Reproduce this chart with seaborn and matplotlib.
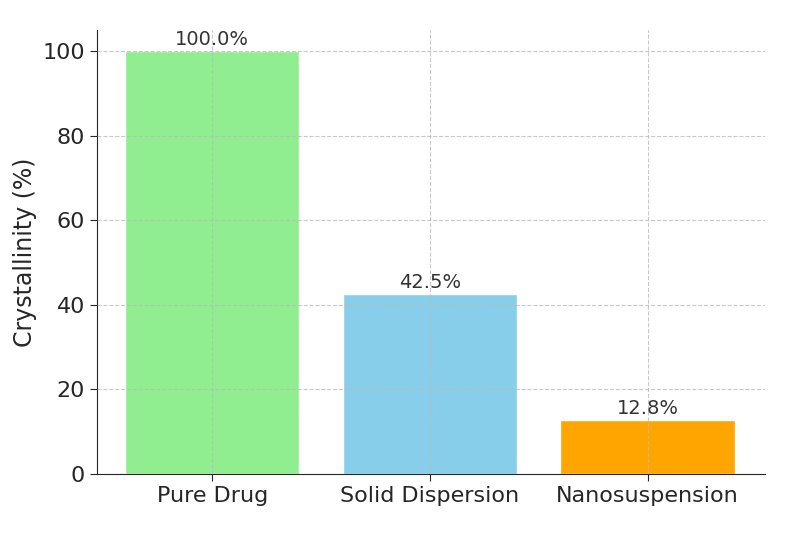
import matplotlib
matplotlib.use("Agg")
import matplotlib.pyplot as plt
import seaborn as sns
import pandas as pd

categories = ["Pure Drug", "Solid Dispersion", "Nanosuspension"]
values = [100.0, 42.5, 12.8]
colors = ["lightgreen", "skyblue", "orange"]

sns.set_style("white")
plt.rcParams['font.family'] = ['DejaVu Sans']
fig = plt.figure(figsize=(7.92, 5.43), dpi=100)
ax = fig.add_axes([97/792, 1-474/543, (765-97)/792, (474-30)/543])
df = pd.DataFrame({"cat": categories, "val": values})
sns.barplot(data=df, x="cat", y="val", hue="cat", palette=colors, ax=ax, width=0.8, legend=False, saturation=1)
for i, v in enumerate(values):
    ax.text(i, v + 0.5, f"{v:.1f}%", ha="center", va="bottom", fontsize=14, color="#333333")
ax.set_ylim(0, 105)
ax.set_xlim(-0.53, 2.54)
ax.set_xlabel("")
ax.set_ylabel("Crystallinity (%)", fontsize=17)
ax.tick_params(axis="both", labelsize=16, length=5, left=True, bottom=True)
ax.grid(True, linestyle="--", color="#bbbbbb", alpha=0.8)
ax.set_axisbelow(False)
sns.despine(ax=ax)
fig.savefig("out.png", dpi=100)
